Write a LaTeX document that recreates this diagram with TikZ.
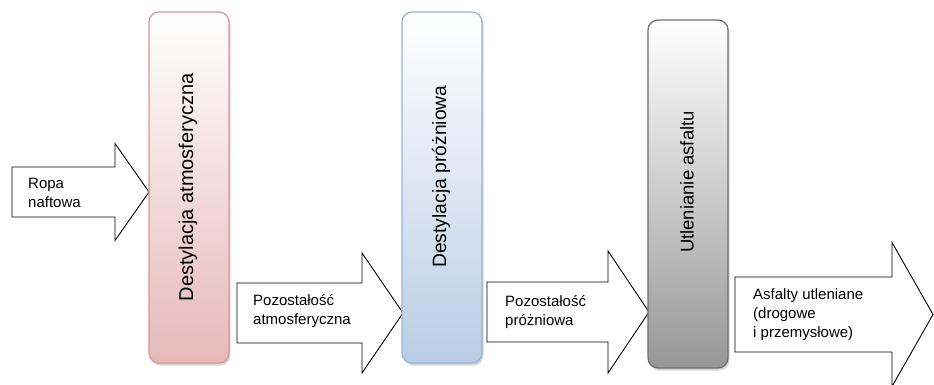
\documentclass[tikz,border=0pt]{standalone}
\usepackage{fontspec}
\setmainfont{Liberation Sans}
\usetikzlibrary{shadows}
\definecolor{atmline}{HTML}{D99694}
\definecolor{atmfill}{HTML}{E6B9B8}
\definecolor{vacline}{HTML}{95B3D7}
\definecolor{vacfill}{HTML}{B9CDE5}
\definecolor{oxline}{HTML}{6E6E6E}
\definecolor{oxfill}{HTML}{979797}

% block arrow: start x, neck x, tip x, middle y, shaft half height, head half height
\newcommand{\flowarrow}[6]{%
  \draw[blockarrow] (#1,#4-#5) -- (#2,#4-#5) -- (#2,#4-#6) -- (#3,#4)
    -- (#2,#4+#6) -- (#2,#4+#5) -- (#1,#4+#5) -- cycle;}

\begin{document}
\begin{tikzpicture}[
  x=1pt, y=-1pt,
  stage/.style 2 args={rectangle, rounded corners=10pt, draw=#1, line width=1.2pt,
              top color=white, bottom color=#2, minimum width=80pt,
              drop shadow={shadow xshift=1.5pt, shadow yshift=-2.5pt, opacity=0.35, fill=black!45}},
  stagetext/.style={rotate=90, font=\fontsize{20}{24}\selectfont, inner sep=0pt},
  blockarrow/.style={draw=black, line width=0.9pt, fill=white, line join=miter},
  flowtext/.style={anchor=north west, align=left, inner sep=0pt,
              font=\fontsize{15}{19}\selectfont},
]
\useasboundingbox (0,0) rectangle (934,385);

% material flows
\flowarrow{12}{115}{149}{192}{25}{48.5}
\flowarrow{237}{362}{403}{313}{30}{60}
\flowarrow{487}{608}{649}{312}{30}{61}
\flowarrow{735}{892}{933}{314.5}{37.5}{72}

% process stages
\node[stage={atmline}{atmfill}, minimum height=351pt] (atm) at (189,187.5) {};
\node[stage={vacline}{vacfill}, minimum height=351pt] (vac) at (442,187.5) {};
\node[stage={oxline}{oxfill}, minimum height=348pt] (ox) at (688,194) {};

\node[stagetext] (atmtxt) at ([xshift=-1pt]atm.center) {Destylacja atmosferyczna};
\node[stagetext, font=\fontsize{19.3}{23}\selectfont] (vactxt) at ([xshift=-1pt, yshift=11pt]vac.center) {Destylacja próżniowa};
\node[stagetext, font=\fontsize{18.5}{22}\selectfont] (oxtxt) at ([xshift=-1pt, yshift=12pt]ox.center) {Utlenianie asfaltu};

% flow labels
\node[flowtext] (crude) at (28,177.5) {Ropa\\naftowa};
\node[flowtext] (atmres) at (253,294) {Pozostałość\\atmosferyczna};
\node[flowtext] (vacres) at (505,295) {Pozostałość\\próżniowa};
\node[flowtext] (product) at (753,288) {Asfalty utleniane\\(drogowe\\i przemysłowe)};
\end{tikzpicture}
\end{document}
